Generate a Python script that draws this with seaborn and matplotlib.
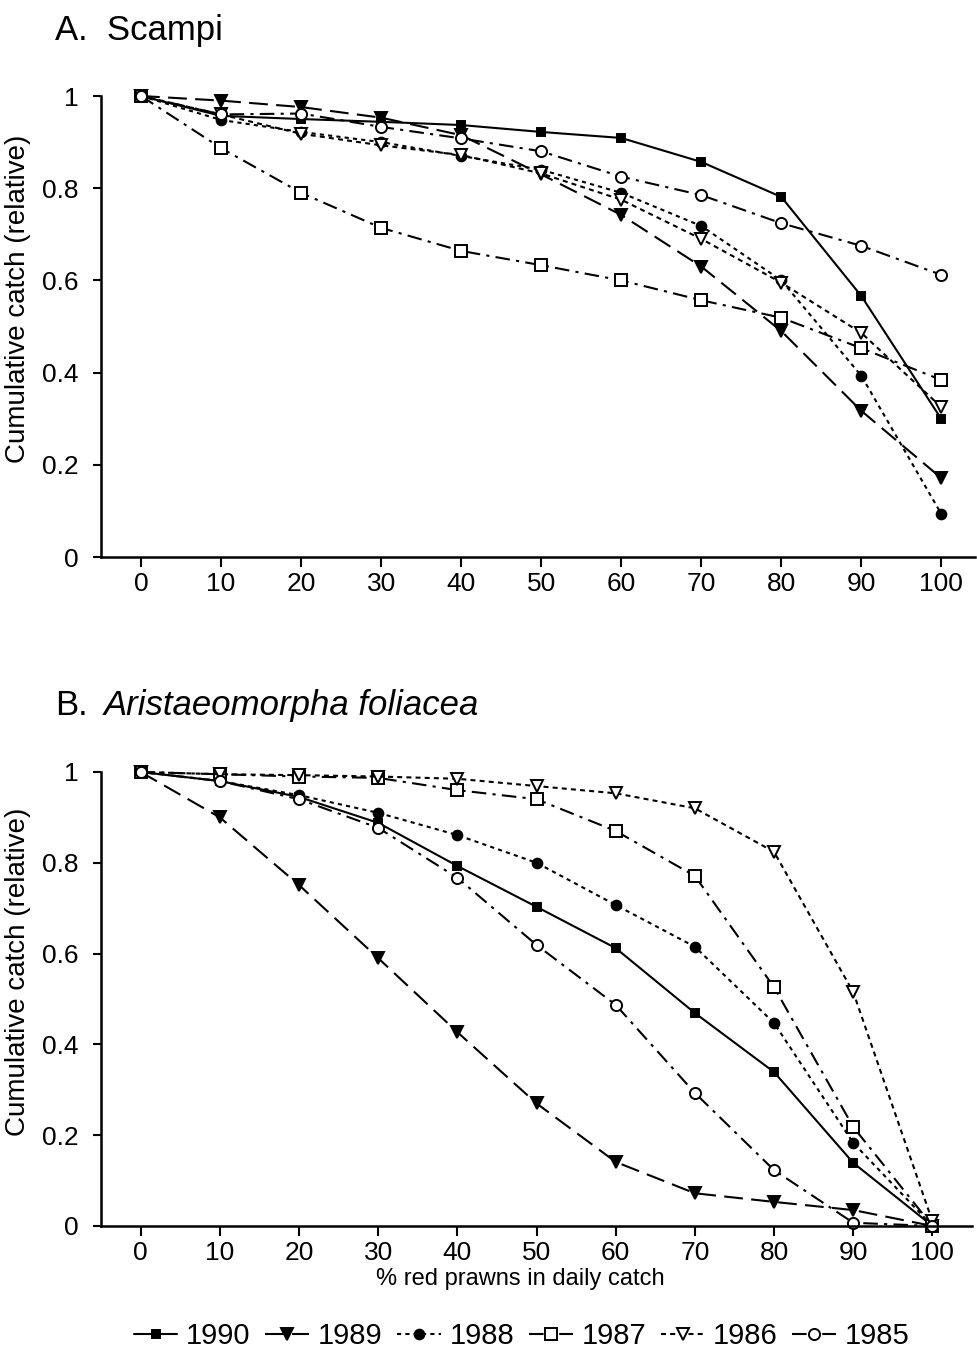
import matplotlib
matplotlib.use('Agg')
import matplotlib.pyplot as plt
import seaborn as sns
import numpy as np

# % red prawns in daily catch
pct = [0, 10, 20, 30, 40, 50, 60, 70, 80, 90, 100]
years = ['1990', '1989', '1988', '1987', '1986', '1985']

# A. Scampi
scampi_1990 = [1, 0.957, 0.950, 0.944, 0.937, 0.922, 0.909, 0.857, 0.781, 0.566, 0.299]
scampi_1989 = [1, 0.990, 0.976, 0.953, 0.915, 0.830, 0.742, 0.630, 0.490, 0.317, 0.171]
scampi_1988 = [1, 0.948, 0.922, 0.900, 0.870, 0.840, 0.790, 0.718, 0.600, 0.393, 0.093]
scampi_1987 = [1, 0.887, 0.790, 0.714, 0.664, 0.633, 0.600, 0.557, 0.519, 0.453, 0.384]
scampi_1986 = [1, 0.960, 0.918, 0.893, 0.872, 0.832, 0.775, 0.690, 0.595, 0.486, 0.325]
scampi_1985 = [1, 0.960, 0.962, 0.933, 0.908, 0.880, 0.825, 0.785, 0.724, 0.675, 0.612]

# B. Aristaeomorpha foliacea
aristeo_1990 = [1, 0.980, 0.945, 0.888, 0.793, 0.703, 0.612, 0.469, 0.339, 0.139, 0.0]
aristeo_1989 = [1, 0.900, 0.751, 0.590, 0.427, 0.270, 0.141, 0.072, 0.053, 0.035, 0.0]
aristeo_1988 = [1, 0.980, 0.949, 0.910, 0.861, 0.800, 0.707, 0.615, 0.447, 0.183, 0.0]
aristeo_1987 = [1, 0.995, 0.990, 0.987, 0.960, 0.940, 0.870, 0.771, 0.526, 0.218, 0.0]
aristeo_1986 = [1, 0.995, 0.993, 0.990, 0.985, 0.969, 0.953, 0.920, 0.824, 0.515, 0.010]
aristeo_1985 = [1, 0.980, 0.940, 0.877, 0.767, 0.619, 0.487, 0.293, 0.123, 0.007, 0.0]

scampi = [scampi_1990, scampi_1989, scampi_1988, scampi_1987, scampi_1986, scampi_1985]
aristeo = [aristeo_1990, aristeo_1989, aristeo_1988, aristeo_1987, aristeo_1986, aristeo_1985]

ytick_vals = [0, 0.2, 0.4, 0.6, 0.8, 1]
ytick_labels = ['0', '0.2', '0.4', '0.6', '0.8', '1']

sns.set_style('ticks')
plt.rcParams['font.family'] = ['Liberation Sans', 'DejaVu Sans']
plt.rcParams['text.color'] = 'k'
plt.rcParams['axes.labelcolor'] = 'k'
plt.rcParams['xtick.color'] = 'k'
plt.rcParams['ytick.color'] = 'k'
plt.rcParams['axes.edgecolor'] = 'k'

# line style / marker per year
styles = {
    '1990': dict(linestyle='-', marker='s', ms=5.5, mfc='k'),
    '1989': dict(linestyle=(0, (9, 4)), marker='v', ms=8, mfc='k'),
    '1988': dict(linestyle=(0, (2, 2)), marker='o', ms=7, mfc='k'),
    '1987': dict(linestyle=(0, (7, 3, 1.5, 3)), marker='s', ms=9, mfc='w'),
    '1986': dict(linestyle=(0, (2.4, 2)), marker='v', ms=8, mfc='w'),
    '1985': dict(linestyle=(0, (7, 3, 1.5, 3)), marker='o', ms=8, mfc='w'),
}


def draw_panel(ax, series, xmax):
    for year, vals in zip(years, series):
        sns.lineplot(x=pct, y=vals, ax=ax, color='k', lw=1.5, markeredgecolor='k',
                     markeredgewidth=1.4, clip_on=False, label=year, **styles[year])
    ax.set_xlim(-5, xmax)
    ax.set_ylim(0, 1)
    ax.set_xticks(pct)
    ax.set_yticks(ytick_vals)
    ax.set_yticklabels(ytick_labels)
    sns.despine(ax=ax)
    for s in ['left', 'bottom']:
        ax.spines[s].set_linewidth(1.8)
    ax.tick_params(axis='x', length=7, width=1.5, labelsize=19, pad=4)
    ax.tick_params(axis='y', length=6, width=1.5, labelsize=19, pad=10)
    ax.set_ylabel('Cumulative catch (relative)', fontsize=20)
    ax.yaxis.set_label_coords(-0.08, 0.56)
    ax.set_xlabel('')
    ax.get_legend().remove()


fig = plt.figure(figsize=(9.77, 13.56), dpi=100)
ax_a = fig.add_axes([0.1034, 0.5892, 0.8946, 0.34])
ax_b = fig.add_axes([0.1034, 0.0959, 0.8915, 0.3348])

draw_panel(ax_a, scampi, 104.2)
draw_panel(ax_b, aristeo, 105)

ax_b.set_xlabel('% red prawns in daily catch', fontsize=17)
ax_b.xaxis.set_label_coords(0.481, -0.092)

fig.text(0.056, 0.9705, 'A.  Scampi', fontsize=25, va='baseline')
fig.text(0.056, 0.4727, 'B.', fontsize=25, va='baseline')
fig.text(0.106, 0.4727, 'Aristaeomorpha foliacea', fontsize=25, va='baseline',
         style='italic')

handles, labels = ax_b.get_lines(), years
fig.legend(handles[:6], labels, loc='center', bbox_to_anchor=(0.534, 0.0147), ncol=6,
           frameon=False, fontsize=21, handlelength=1.5, handletextpad=0.3,
           columnspacing=0.5)

fig.savefig('out.png', dpi=100)
